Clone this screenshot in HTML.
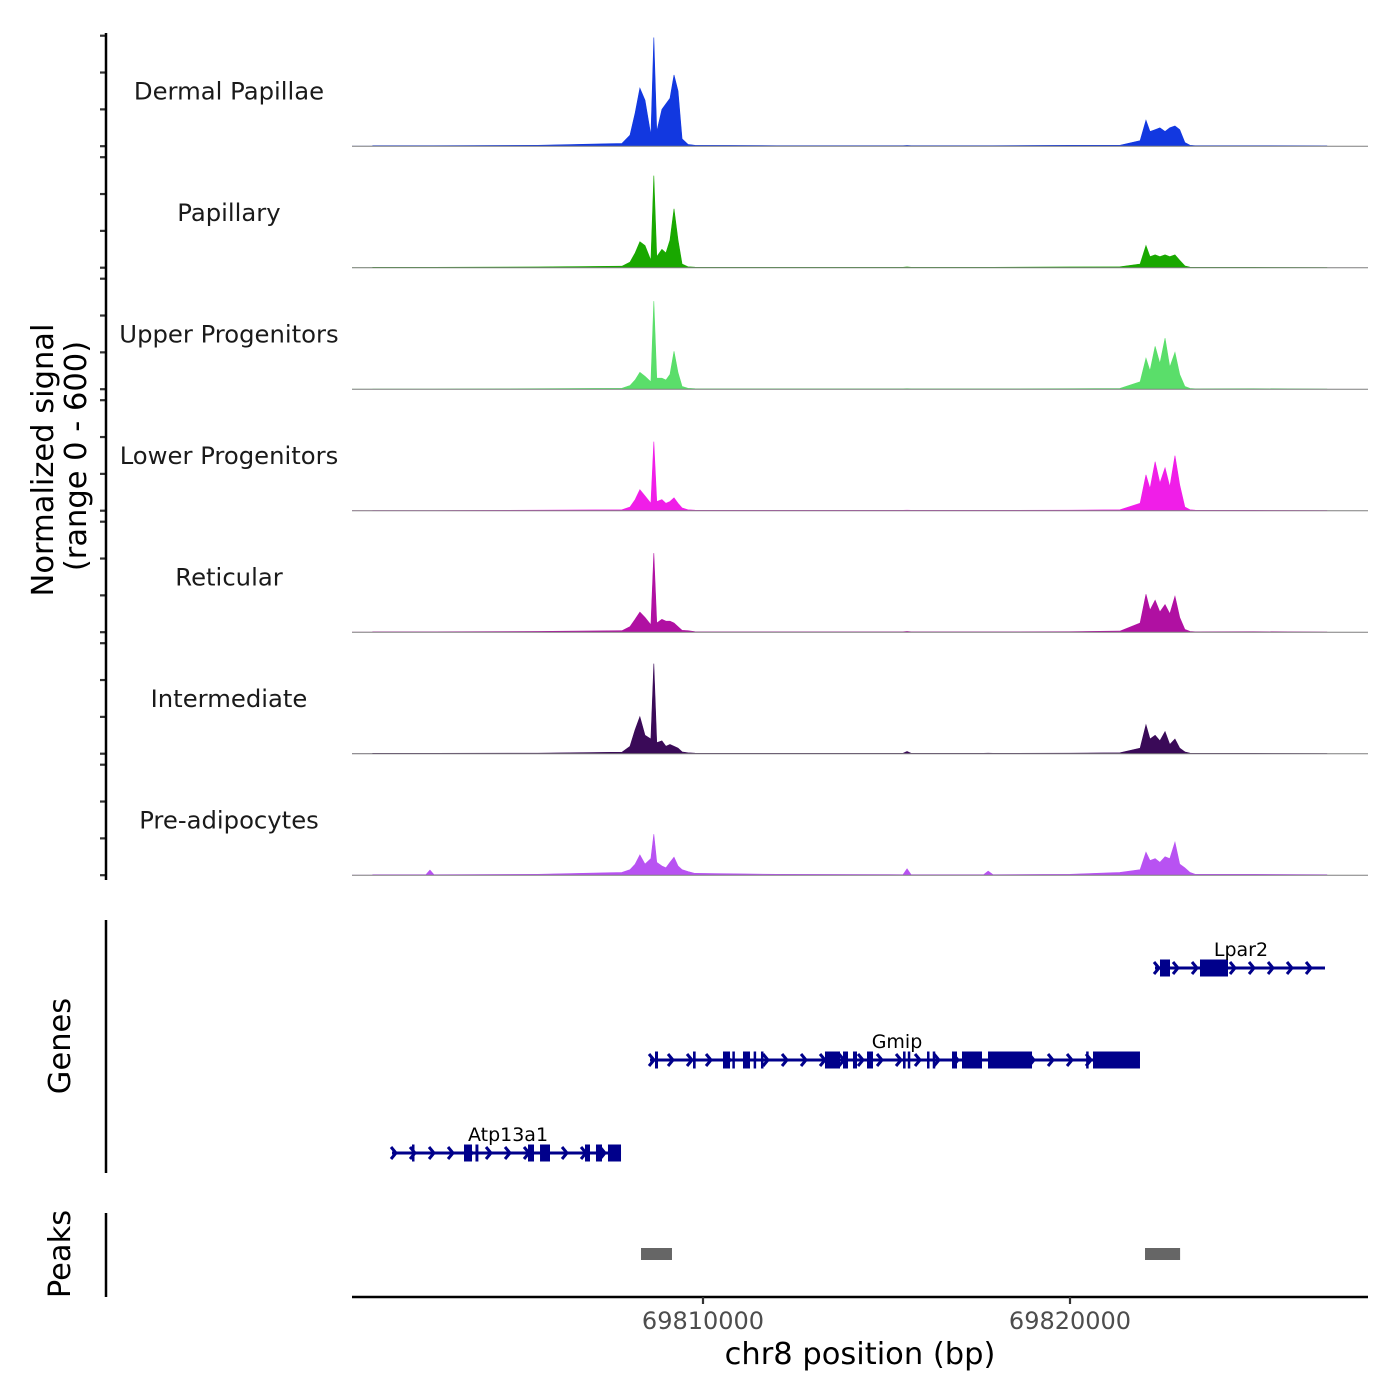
<!DOCTYPE html>
<html><head><meta charset="utf-8"><style>
html,body{margin:0;padding:0;background:#fff;}
svg{display:block;font-family:"DejaVu Sans","Liberation Sans",sans-serif;}
</style></head><body>
<svg id="chart" width="1400" height="1400" viewBox="0 0 1400 1400" xmlns="http://www.w3.org/2000/svg">
<g id="tracks"></g>
<g id="genes"></g>
<g id="peaks"></g>
<g id="axes"></g>
</svg>
<script>
// ---- data ----
const trackNames = ["Dermal Papillae","Papillary","Upper Progenitors","Lower Progenitors","Reticular","Intermediate","Pre-adipocytes"];
const trackColors = ["#1238e0","#19a800","#5ade6a","#f01ee8","#b010a2","#3a0a58","#b852f2"];
const positionsKb = [69801.0,69802.45,69802.56,69802.67,69805.5,69807.79,69808.01,69808.15,69808.28,69808.42,69808.58,69808.66,69808.74,69808.88,69808.99,69809.10,69809.21,69809.32,69809.43,69809.59,69809.78,69812,69815.45,69815.56,69815.67,69817.65,69817.77,69817.9,69820,69821.36,69821.91,69822.07,69822.18,69822.32,69822.45,69822.59,69822.72,69822.86,69822.99,69823.13,69823.27,69823.41,69825,69827];
const dermalPapillae = [3,3,3,3,5,15,60,180,315,250,60,590,80,200,230,260,387,300,40,10,5,3,3,4,3,3,3,3,5,5,30,141,80,90,100,80,100,110,90,20,5,3,3,2];
const papillary = [2,2,2,2,4,8,30,80,141,120,40,500,60,100,80,150,320,150,20,5,3,2,2,4,2,2,2,2,4,5,20,120,60,70,60,70,60,70,40,10,3,2,2,1];
const upperProgenitors = [1,1,1,1,3,5,20,50,92,70,40,478,60,60,50,80,206,90,15,5,3,2,2,3,2,2,2,2,3,4,40,168,100,233,140,277,120,200,80,15,4,2,3,1];
const lowerProgenitors = [1,1,1,1,3,5,20,60,114,80,40,375,50,60,40,50,70,40,15,5,3,2,2,3,2,2,2,2,3,5,40,195,120,266,150,233,130,299,140,20,5,3,2,1];
const reticular = [2,2,2,2,4,8,30,70,109,80,40,429,50,70,60,60,50,30,10,8,3,2,2,4,2,2,2,2,3,6,50,206,120,174,110,150,100,195,80,15,4,2,3,1];
const intermediate = [2,2,2,2,3,8,40,130,201,100,80,489,60,70,40,50,40,30,10,5,3,2,2,12,2,2,3,2,3,5,30,157,80,100,70,120,50,80,30,10,3,2,2,1];
const preAdipocytes = [3,3,28,3,5,15,30,60,110,60,90,223,70,50,40,70,98,50,30,20,10,5,3,35,3,3,22,3,5,15,30,125,80,90,70,100,90,179,60,40,15,5,5,3];
const seriesValues = [dermalPapillae,papillary,upperProgenitors,lowerProgenitors,reticular,intermediate,preAdipocytes];
const yTickValues = [0,200,400,600];
const xTickValues = [69810000,69820000];
const xTickLabels = ["69810000","69820000"];
// genes: offsets in kb relative to 69810000
const geneNames = ["Lpar2","Gmip","Atp13a1"];
const geneSpans = [[12.316,16.948],[-1.444,11.907],[-8.474,-2.234]];
const geneExons = [
 [[12.452,12.725],[13.542,14.305]],
 [[-1.308,-1.226],[-0.272,-0.2],[0.545,0.736],[0.8,0.84],[1.09,1.281],[1.38,1.44],[1.58,1.64],[3.324,3.733],[3.815,3.951],[4.087,4.196],[4.469,4.632],[5.45,5.52],[5.58,5.64],[6.104,6.15],[6.26,6.322],[6.785,6.921],[7.057,7.602],[7.766,8.965],[10.44,10.5],[10.627,11.907]],
 [[-7.929,-7.875],[-6.512,-6.294],[-6.2,-6.12],[-4.768,-4.605],[-4.441,-4.169],[-3.215,-3.079],[-2.916,-2.752],[-2.589,-2.234]]
];
const peakRanges = [[-1.689,-0.845],[12.044,13.0]];

// ---- scales ----
const X0=352,X1=1368;
const xScale = bp => 703 + (bp-69810000)/1000*36.7;
const xKb = kb => xScale(69810000+kb*1000);
const trackTop0=35.7, trackPitch=121.5, trackH=110.5;
const yScale = (i,v) => trackTop0+trackPitch*i+trackH - v/600*trackH;
const NS="http://www.w3.org/2000/svg";
function mk(tag,attrs,parent){const e=document.createElementNS(NS,tag);for(const k in attrs)e.setAttribute(k,attrs[k]);parent.appendChild(e);return e;}

const gT=document.getElementById('tracks');
seriesValues.forEach((vals,i)=>{
  const base=yScale(i,0);
  let d=`M${X0},${base} L${xScale(positionsKb[0]*1000)},${base}`;
  vals.forEach((v,j)=>{d+=` L${xScale(positionsKb[j]*1000).toFixed(2)},${yScale(i,v).toFixed(2)}`;});
  d+=` L${xScale(positionsKb[positionsKb.length-1]*1000)},${base} Z`;
  const p=mk('path',{d:d,fill:trackColors[i],stroke:trackColors[i],'stroke-width':0.6},gT);
  
  
  const bl=mk('line',{x1:X0,x2:X1,y1:base,y2:base,stroke:'#7f7f7f','stroke-width':1},gT);
  
  
  const t=mk('text',{x:229,y:trackTop0+trackPitch*i+64,'text-anchor':'middle','font-size':24.3,fill:'#1a1a1a'},gT);
  t.textContent=trackNames[i];
  
  
  yTickValues.forEach(tv=>{
    const y=yScale(i,tv);
    const tk=mk('line',{x1:100,x2:106,y1:y,y2:y,stroke:'#333','stroke-width':2.2},gT);
    
    
  });
});

// genes
const gG=document.getElementById('genes');
const geneY=[968,1060,1153];
const labelX=[1241,897,508];
geneNames.forEach((n,i)=>{
  const y=geneY[i], xs=xKb(geneSpans[i][0]), xe=xKb(geneSpans[i][1]);
  const ln=mk('line',{x1:xs,x2:xe,y1:y,y2:y,stroke:'#00008b','stroke-width':3},gG);
  
  
  for(let x=xs+4;x<=xe;x+=19){
    const a=mk('path',{d:`M${x-5},${y-6} L${x},${y} L${x-5},${y+6}`,fill:'none',stroke:'#00008b','stroke-width':3},gG);
    
    
  }
  geneExons[i].forEach(ex=>{
    const a=xKb(ex[0]),b=xKb(ex[1]);
    const r=mk('rect',{x:a,y:y-8.5,width:Math.max(b-a,2.5),height:17,fill:'#00008b'},gG);
    
    
  });
  const t=mk('text',{x:labelX[i],y:y-12,'text-anchor':'middle','font-size':19,fill:'#000'},gG);
  t.textContent=n;
  
  
});

// peaks
const gP=document.getElementById('peaks');
peakRanges.forEach(pr=>{
  const a=xKb(pr[0]),b=xKb(pr[1]);
  const r=mk('rect',{x:a,y:1248,width:b-a,height:12,fill:'#666'},gP);
  
  
});

// axes
const gA=document.getElementById('axes');
const axisLines=[[106,33,106,880],[106,920,106,1173],[106,1213,106,1297],[352,1297,1368,1297]];
axisLines.forEach(l=>{
  const e=mk('line',{x1:l[0],y1:l[1],x2:l[2],y2:l[3],stroke:'#000','stroke-width':2.5},gA);
  
  
});
xTickValues.forEach((v,i)=>{
  const x=xScale(v);
  const tk=mk('line',{x1:x,x2:x,y1:1297,y2:1304,stroke:'#333','stroke-width':2.2},gA);
  
  
  const t=mk('text',{x:x,y:1329,'text-anchor':'middle','font-size':24,fill:'#4d4d4d'},gA);
  t.textContent=xTickLabels[i];
  
  
});
function txt(s,attrs,name){const t=mk('text',attrs,gA);t.textContent=s;return t;}
txt('chr8 position (bp)',{x:860,y:1364,'text-anchor':'middle','font-size':30.5,fill:'#000'},'x-axis-title');
txt('Normalized signal',{x:0,y:0,'text-anchor':'middle','font-size':30.5,fill:'#000',transform:'translate(53,460) rotate(-90)'},'y-axis-title');
txt('(range 0 - 600)',{x:0,y:0,'text-anchor':'middle','font-size':30.5,fill:'#000',transform:'translate(86,456) rotate(-90)'},'y-axis-subtitle');
txt('Genes',{x:0,y:0,'text-anchor':'middle','font-size':30.5,fill:'#000',transform:'translate(70,1046) rotate(-90)'},'genes-axis-title');
txt('Peaks',{x:0,y:0,'text-anchor':'middle','font-size':30.5,fill:'#000',transform:'translate(70,1254) rotate(-90)'},'peaks-axis-title');
</script>
</body></html>
